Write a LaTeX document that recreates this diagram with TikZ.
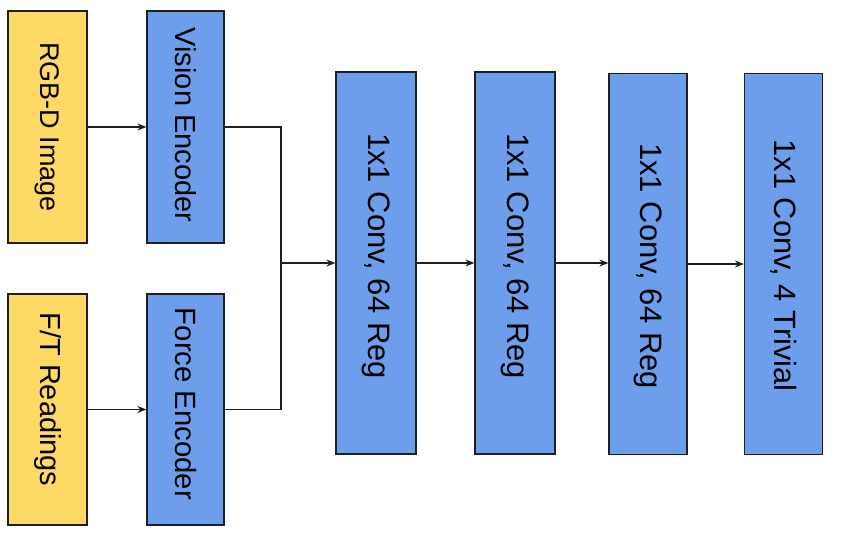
\documentclass[tikz,border=0pt]{standalone}
\usepackage{fontspec}
\setmainfont{Liberation Sans}
\usepackage{graphicx}
\usetikzlibrary{arrows.meta}
\definecolor{boxyellow}{HTML}{FFD966}
\definecolor{boxblue}{HTML}{6D9EEB}
\definecolor{edge}{HTML}{1F1F1F}
\tikzset{
  blk/.style={draw=edge, line width=1.2pt, inner sep=0pt},
  ybox/.style={blk, fill=boxyellow},
  bbox/.style={blk, fill=boxblue},
  conn/.style={draw=edge, line width=1.2pt},
  arr/.style={conn, -{Stealth[length=9pt,width=7pt]}}
}
\newcommand{\fsz}[1]{\fontsize{#1}{#1}\selectfont}
\begin{document}
\begin{tikzpicture}[x=1pt,y=-1pt]
\useasboundingbox (0,0) rectangle (856,538);
\node[ybox, minimum width=79pt, minimum height=232pt, font=\fsz{27}] (rgb) at (47.5,127) {\rotatebox{-90}{RGB-D Image}};
\node[bbox, minimum width=77pt, minimum height=232pt, font=\fsz{29}] (vis) at (185.5,127) {\rotatebox{-90}{Vision Encoder\hspace*{4pt}}};
\node[ybox, minimum width=79pt, minimum height=231pt, font=\fsz{29}] (ft) at (47.5,409.5) {\rotatebox{-90}{F/T Readings\hspace*{20pt}}};
\node[bbox, minimum width=77pt, minimum height=231pt, font=\fsz{29.3}] (force) at (185.5,409.5) {\rotatebox{-90}{Force Encoder\hspace*{11pt}}};
\node[bbox, minimum width=80pt, minimum height=382pt, font=\fsz{31}] (c1) at (376,263) {\rotatebox{-90}{1x1 Conv, 64 Reg\hspace*{14pt}}};
\node[bbox, minimum width=80pt, minimum height=382pt, font=\fsz{31}] (c2) at (515,263) {\rotatebox{-90}{1x1 Conv, 64 Reg\hspace*{14pt}}};
\node[bbox, minimum width=78pt, minimum height=381pt, font=\fsz{31}] (c3) at (648,264) {\rotatebox{-90}{\hspace*{4pt}1x1 Conv, 64 Reg}};
\node[bbox, minimum width=78pt, minimum height=381pt, font=\fsz{30.8}] (c4) at (783.5,264) {\rotatebox{-90}{\hspace*{3pt}1x1 Conv, 4 Trivial}};
\coordinate (j) at (281,263);
\draw[arr] (rgb.east) -- (vis.west);
\draw[arr] (ft.east) -- (force.west);
\draw[conn] (vis.east) -| (j);
\draw[conn] (force.east) -| (j);
\draw[arr] (j) -- (c1.west);
\draw[arr] (c1.east) -- (c2.west);
\draw[arr] (c2.east) -- (c2.east -| c3.west);
\draw[arr] (c3.east) -- (c3.east -| c4.west);
\end{tikzpicture}
\end{document}
